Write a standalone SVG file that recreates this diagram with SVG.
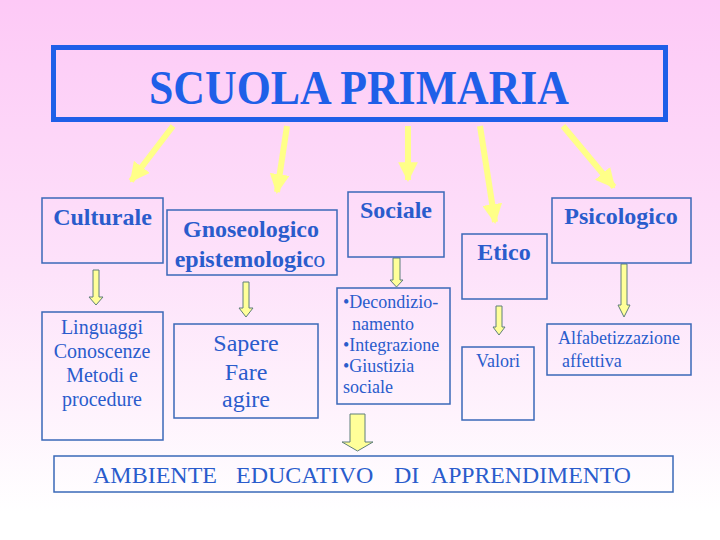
<svg xmlns="http://www.w3.org/2000/svg" width="720" height="540" viewBox="0 0 720 540">
<defs>
<linearGradient id="bg" x1="0" y1="0" x2="0" y2="1">
<stop offset="0" stop-color="#fdc9f6"/>
<stop offset="0.5" stop-color="#fde2fa"/>
<stop offset="0.95" stop-color="#ffffff"/>
</linearGradient>
<marker id="yh" viewBox="0 0 10 10" refX="9" refY="5" markerWidth="3.3" markerHeight="3.3" orient="auto" markerUnits="strokeWidth">
<path d="M0,0 L10,5 L0,10 z" fill="#ffff88"/>
</marker>
<style>
.box{fill:none;stroke:#3a68b8;stroke-width:1.5}
.t{fill:#2a5ccc}
.b{font-weight:bold}
.yl{stroke:#ffff88;stroke-width:6;fill:none;marker-end:url(#yh)}
.ba{fill:#ffff99;stroke:#5f7f7a;stroke-width:1}
</style>
</defs>
<rect width="720" height="540" fill="url(#bg)"/>

<g font-family="'Liberation Serif', 'Times New Roman', serif">
<g id="title">
<rect x="53.5" y="47.5" width="612" height="72" fill="none" stroke="#1f5fe8" stroke-width="5"/>
<text x="149" y="104" font-size="48" font-weight="bold" fill="#1f5fe8" textLength="420" lengthAdjust="spacingAndGlyphs">SCUOLA PRIMARIA</text>
</g>

<g id="connectors">
<line class="yl" x1="173" y1="126" x2="131" y2="181"/>
<line class="yl" x1="287" y1="126" x2="277" y2="192"/>
<line class="yl" x1="408" y1="126" x2="408" y2="180"/>
<line class="yl" x1="480" y1="126" x2="495" y2="222"/>
<line class="yl" x1="563" y1="126" x2="614" y2="187"/>
<path class="ba" d="M93,270 H99 V297 H103 L96,305 L89,297 H93 Z"/>
<path class="ba" d="M243,282 H249 V308 H253 L246,317 L239,308 H243 Z"/>
<path class="ba" d="M393,258 H400 V280 H403 L396.5,287 L390,280 H393 Z"/>
<path class="ba" d="M496,306 H502 V327 H505 L499,335 L493,327 H496 Z"/>
<path class="ba" d="M621,264 H627 V305 H630 L624,317 L618,305 H621 Z"/>
<path class="ba" d="M350,414 H365 V442 H373 L357.5,451 L342,442 H350 Z"/>
</g>

<g id="culturale">
<rect class="box" x="42" y="198" width="121" height="65"/>
<text class="t b" x="102.5" y="225" font-size="24" text-anchor="middle">Culturale</text>
</g>
<g id="gnoseologico">
<rect class="box" x="167" y="210" width="170" height="65"/>
<text class="t b" x="251" y="237" font-size="24" text-anchor="middle">Gnoseologico</text>
<text class="t" x="250" y="267" font-size="24" text-anchor="middle"><tspan font-weight="bold">epistemologic</tspan>o</text>
</g>
<g id="sociale">
<rect class="box" x="348" y="192" width="96" height="65"/>
<text class="t b" x="396" y="218" font-size="24" text-anchor="middle">Sociale</text>
</g>
<g id="etico">
<rect class="box" x="462" y="234" width="85" height="65"/>
<text class="t b" x="504" y="260" font-size="24" text-anchor="middle">Etico</text>
</g>
<g id="psicologico">
<rect class="box" x="552" y="198" width="139" height="65"/>
<text class="t b" x="621" y="224" font-size="24" text-anchor="middle">Psicologico</text>
</g>

<g id="linguaggi">
<rect class="box" x="42" y="312" width="121" height="128"/>
<text class="t" x="102" y="334" font-size="20" text-anchor="middle">Linguaggi</text>
<text class="t" x="102" y="358" font-size="20" text-anchor="middle">Conoscenze</text>
<text class="t" x="102" y="382" font-size="20" text-anchor="middle">Metodi e</text>
<text class="t" x="102" y="406" font-size="20" text-anchor="middle">procedure</text>
</g>
<g id="sapere">
<rect class="box" x="174" y="324" width="144" height="94"/>
<text class="t" x="246" y="351" font-size="24" text-anchor="middle">Sapere</text>
<text class="t" x="246" y="380" font-size="24" text-anchor="middle">Fare</text>
<text class="t" x="246" y="407" font-size="24" text-anchor="middle">agire</text>
</g>
<g id="sociale-dett">
<rect class="box" x="337" y="288" width="113" height="116"/>
<text class="t" x="343" y="308" font-size="18">•Decondizio-</text>
<text class="t" x="352" y="330" font-size="18">namento</text>
<text class="t" x="343" y="351" font-size="18">•Integrazione</text>
<text class="t" x="343" y="372" font-size="18">•Giustizia</text>
<text class="t" x="343" y="393" font-size="18">sociale</text>
</g>
<g id="valori">
<rect class="box" x="462" y="347" width="72" height="73"/>
<text class="t" x="498" y="367" font-size="18" text-anchor="middle">Valori</text>
</g>
<g id="alfabetizzazione">
<rect class="box" x="547" y="324" width="144" height="51"/>
<text class="t" x="558" y="344" font-size="18">Alfabetizzazione</text>
<text class="t" x="562" y="367" font-size="18">affettiva</text>
</g>

<g id="ambiente">
<rect class="box" x="54" y="456" width="619" height="36"/>
<text class="t" y="483" font-size="24"><tspan x="93">AMBIENTE</tspan><tspan x="236">EDUCATIVO</tspan><tspan x="394">DI</tspan><tspan x="431" textLength="200" lengthAdjust="spacingAndGlyphs">APPRENDIMENTO</tspan></text>
</g>
</g>
</svg>
